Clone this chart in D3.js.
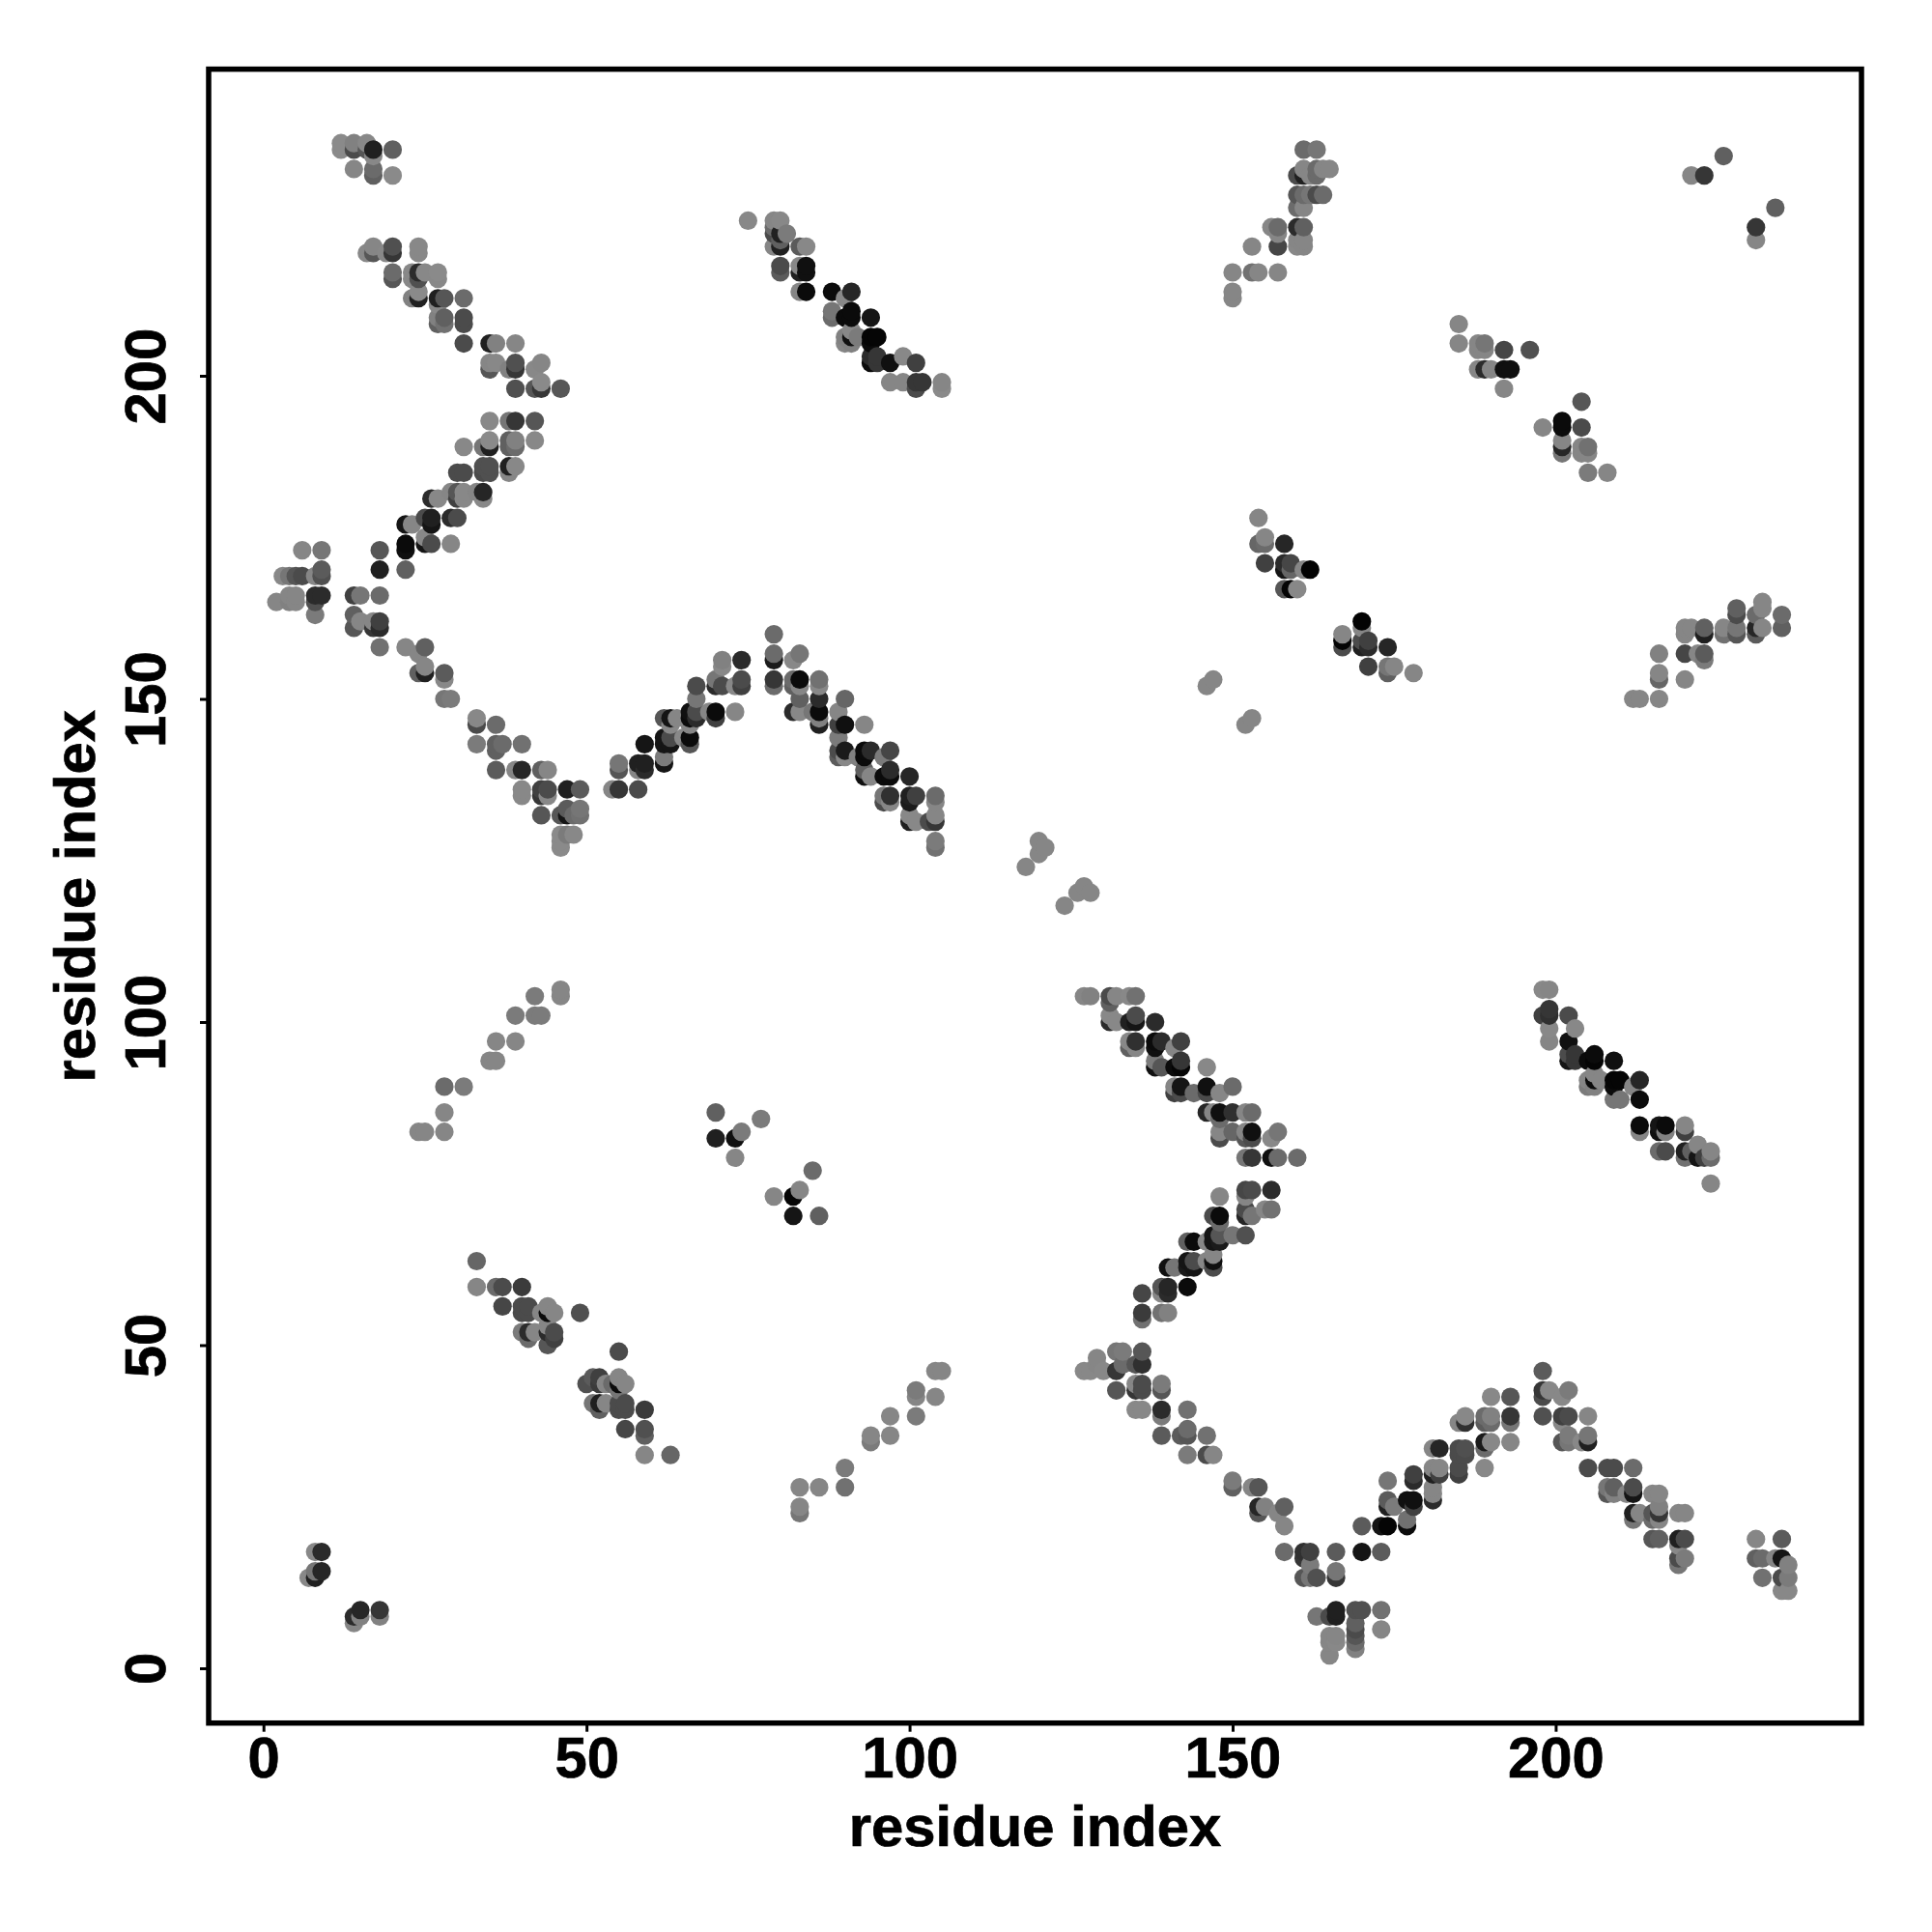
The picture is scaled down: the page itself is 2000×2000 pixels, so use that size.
<!DOCTYPE html>
<html><head><meta charset="utf-8">
<script src="https://cdnjs.cloudflare.com/ajax/libs/d3/7.8.5/d3.min.js"></script>
<style>html,body{margin:0;padding:0;background:#fff}svg{display:block}</style>
</head><body><svg id="c" width="2000" height="2000"></svg>
<script>
// each contact: [residue i, residue j, grey level of the dot]
const topLeft=[[12,236,135],[12,235,135],[14,236,120],[14,235,70],[16,236,130],[16,235,80],[17,235,30],[17,234,130],[20,235,90],[14,232,125],[17,232,100],[17,231,90],[20,231,135],
[16,219,130],[17,220,125],[17,219,80],[19,219,130],[20,220,75],[20,219,50],[24,220,130],[24,219,130],[20,216,100],[20,215,80],[23,215,130],[23,216,130],[24,216,40],[24,215,75],[25,216,130],[27,216,135],[27,215,130],
[23,212,120],[24,212,30],[24,213,135],[27,212,30],[28,212,80],[31,212,100],[27,211,130],[27,208,90],[27,209,120],[28,209,90],[28,208,105],[31,209,70],[31,208,70],[31,205,70],
[35,205,30],[36,205,120],[39,205,125],[35,202,125],[35,201,80],[36,202,130],[38,201,120],[39,202,75],[39,201,50],[42,201,130],[43,202,125],[39,198,75],[42,198,80],[43,198,50],[43,199,135],[46,198,80]];
const armUp=[[35,193,130],[38,193,110],[39,193,50],[42,193,80],[31,189,130],[34,189,110],[35,189,30],[35,190,135],[38,189,90],[38,190,90],[39,190,120],[39,189,100],[42,190,130],
[30,185,70],[31,185,70],[34,186,75],[34,185,70],[35,186,75],[35,185,75],[38,186,30],[38,185,125],[39,186,130],
[26,181,40],[27,181,130],[29,182,125],[30,182,80],[30,181,60],[31,182,130],[31,181,130],[33,182,125],[34,182,35],[34,181,130],
[22,177,20],[23,177,125],[25,178,70],[26,178,30],[26,177,20],[29,178,40],[30,178,70],[22,174,10],[22,173,15],[25,174,20],[25,175,130],[26,174,70],[29,174,125],[18,173,80],[18,170,30],[22,170,90]];
const leftEdge=[[6,173,125],[9,173,110],[3,169,130],[4,169,110],[5,169,80],[6,169,70],[8,169,125],[9,170,85],[9,169,75],[2,165,125],[4,166,125],[4,165,120],[5,166,125],[5,165,125],[8,166,40],[9,166,40],[8,165,75],[8,163,115],
[14,166,60],[15,166,110],[18,166,100],[14,163,90],[14,161,80],[15,162,125],[17,161,50],[17,162,125],[18,162,60],[18,161,40]];
const armDown=[[18,158,105],[22,158,125],[25,158,90],[24,157,125],[24,154,90],[25,154,30],[25,155,125],[28,154,85],[28,153,130],[28,150,110],[29,150,115],
[33,147,130],[33,146,70],[36,146,100],[33,143,115],[36,143,90],[36,142,90],[37,143,100],[40,143,105],[36,139,85],[39,139,125],[40,139,35],[43,139,90],[44,139,125],
[40,136,130],[40,135,130],[43,136,60],[43,135,50],[44,136,70],[44,135,130],[47,136,30],[49,136,85],[43,132,80],[46,132,80],[47,132,20],[48,132,100],[49,133,110],[49,132,105],[47,133,85],
[46,129,135],[46,128,135],[46,127,135],[48,129,130],[47,129,115]];
const helixTop=[[75,224,130],[79,224,125],[80,224,130],[79,223,100],[79,222,70],[80,222,30],[81,222,115],[79,220,125],[80,220,30],[80,221,90],[83,220,85],[84,220,130],
[80,217,70],[80,216,85],[83,217,130],[83,216,30],[84,217,15],[84,216,15],[83,213,125],[84,213,10],[88,213,10],[91,213,35],[90,212,130],
[88,210,110],[88,209,100],[90,209,10],[91,210,10],[91,209,10],[94,209,20],[90,206,120],[90,205,125],[91,206,15],[91,207,130],[91,205,120],[92,206,115],[94,206,5],[94,205,10],[95,206,5],
[94,203,40],[94,202,10],[95,203,50],[95,202,50],[97,202,15],[99,203,130],[101,202,60],[97,199,125],[99,199,125],[101,199,50],[101,198,70],[102,199,50],[105,199,125],[105,198,135]];
const peakCentre=[[79,160,100],[79,157,100],[79,156,25],[82,156,130],[83,157,110],[79,153,50],[79,152,100],[82,153,100],[82,152,90],[83,153,10],[83,152,125],[83,150,90],[82,148,40],[83,148,130],[85,148,110],
[86,153,105],[86,152,130],[86,150,40],[86,148,10],[86,147,120],[86,146,30],[90,150,95],[89,148,125],[89,146,60],[90,146,15],[93,146,125],[89,144,115],[89,142,70],[89,141,85],[90,142,25],[90,141,130],
[93,142,10],[93,141,10],[94,142,40],[92,141,120],[96,141,115],[97,142,65],[93,139,90],[93,138,15],[94,138,125],[96,138,10],[97,138,10],[97,139,40],[100,138,35],
[96,135,110],[96,134,70],[97,135,45],[97,134,125],[100,135,30],[100,134,25],[101,135,60],[104,135,100],[104,134,125],[100,132,130],[100,131,30],[101,131,130],[103,131,70],[104,132,125],[104,131,50],[104,128,115],[104,127,105],
[54,136,125],[55,136,50],[58,136,70],[55,140,110],[55,139,80],[58,140,30],[59,140,30],[59,139,40],[58,139,125],[59,143,20],[62,141,115],[62,140,20],[62,144,20],[62,143,20],[63,144,70],[63,143,20],[65,144,130],[66,144,10],[66,143,80],[66,146,125],
[62,147,80],[63,147,20],[63,146,130],[64,147,125],[66,148,15],[66,147,10],[67,148,70],[67,147,40],[67,150,110],[67,152,70],[69,148,125],[70,148,10],[70,147,60],[73,148,125],[70,153,110],[70,152,40],[71,152,70],[71,156,120],[71,155,130],[74,156,40],[73,152,130],[74,153,70],[74,152,60]];
const lowerRightUpper=[[127,104,125],[128,104,120],[131,104,70],[131,103,90],[132,104,125],[134,104,130],[135,104,105],[131,101,130],[131,100,40],[132,100,130],[134,100,30],[135,101,70],[135,100,20],[138,100,40],
[134,97,130],[134,96,90],[135,97,45],[135,96,125],[138,97,10],[138,96,15],[139,97,40],[141,96,125],[142,97,60],[138,94,115],[138,93,15],[139,93,80],[141,93,10],[142,93,5],[142,94,50],[146,93,130],
[141,90,125],[141,89,60],[142,90,20],[142,89,70],[144,89,100],[146,90,15],[146,89,70],[148,89,125],[150,90,100],[146,86,35],[147,86,125],[148,86,15],[148,85,100],[150,86,45],[152,86,125],[153,86,100],
[148,83,125],[148,82,70],[150,83,95],[152,83,125],[152,82,80],[153,83,15],[153,82,70],[156,82,130],[157,83,110],[152,79,110],[153,79,50],[156,79,15],[157,79,100],[160,79,100]];
const lowerRightLower=[[152,74,65],[153,74,70],[152,73,125],[156,74,40],[148,73,125],[147,70,70],[148,70,10],[148,69,100],[152,71,70],[152,70,35],[153,70,110],[155,71,125],[156,71,105],
[147,67,20],[147,66,20],[148,67,80],[148,66,25],[150,67,110],[152,67,75],[143,66,90],[144,66,10],[146,66,125],[143,63,20],[143,62,25],[144,63,70],[144,62,20],[146,63,125],[147,64,125],[147,63,15],[147,62,70],[140,62,15],[141,62,110],
[139,59,80],[140,59,35],[139,58,125],[140,58,40],[143,59,10],[136,58,65],[136,55,55],[136,54,105],[139,55,105],[140,55,120]];
const valleyLeft=[[127,46,130],[128,46,130],[129,48,125],[129,47,125],[130,46,130],[132,49,110],[133,49,115],[132,46,50],[133,47,100],[135,47,80],[136,49,80],[136,47,45],[132,43,80],[135,44,125],[135,43,50],[136,44,70],[136,43,70],[139,44,115],[139,43,80],
[135,40,130],[136,40,130],[139,40,40],[139,39,115],[143,40,105],[139,36,85],[142,36,85],[143,37,100],[143,36,80],[146,36,105],[143,33,115],[146,33,70],[147,33,125],[150,29,115],[150,28,90],[153,28,125],[154,28,80],
[154,25,35],[154,24,80],[155,25,120],[157,24,125],[158,25,90],[158,22,125],[158,18,100],[161,18,45],[161,17,50],[162,18,60],[162,16,115],[161,14,80],[162,14,110],[163,14,75],[166,18,85],[166,15,110],[166,14,50],[170,18,20],[173,18,85],
[170,22,85],[173,22,20],[174,22,5],[177,23,105],[177,22,10],[174,29,110],[174,26,85],[174,25,30],[175,25,115],[177,26,15],[178,26,15],[178,25,60],[178,30,60],[178,29,40]];
const valleyFloor=[[163,8,110],[165,8,70],[166,9,30],[166,8,30],[169,9,75],[170,9,75],[173,9,105],[173,6,125],[169,7,90],[169,6,70],[169,5,80],[169,4,100],[169,3,120],[165,5,125],[166,5,125],[165,4,125],[166,4,130],[165,2,125]];
const peakRight=[[181,34,125],[182,34,35],[181,31,125],[181,30,30],[182,31,125],[182,30,60],[181,28,125],[181,27,125],[181,26,40],[185,34,70],[185,33,70],[186,34,75],[186,33,70],[185,31,70],[185,30,60],[185,38,125],[186,39,130],[186,38,45],
[189,39,100],[190,39,120],[189,38,85],[190,38,100],[193,42,80],[193,39,50],[193,38,110],[190,42,130],[189,35,25],[189,34,100],[190,35,130],[193,35,125],[189,31,130],
[198,46,85],[198,43,50],[198,42,70],[199,43,130],[201,42,130],[202,43,115],[198,39,75],[201,39,60],[201,38,130],[202,39,70],[205,39,125],[201,35,80],[202,36,115],[202,35,110],[204,35,130],[205,36,110],[205,35,30],
[205,31,70],[208,31,70],[209,31,70],[212,31,100],[208,28,110],[208,27,80],[209,28,90],[209,27,120],[211,27,125],[212,28,70],[212,27,20],[215,27,125],[216,27,125],[212,24,30],[212,23,110],[213,24,125],[215,24,80],[215,23,100],[216,25,120],[216,24,50],[216,23,125],[219,24,125],[220,24,125],
[215,20,80],[216,20,90],[219,20,30],[220,20,70],[219,19,130],[219,17,70],[219,16,110],[220,17,115]];
const cornerBottomRight=[[231,20,125],[235,20,85],[231,17,90],[232,17,100],[234,17,125],[235,17,20],[236,16,120],[232,14,105],[235,14,70],[236,14,115],[235,12,130],[236,12,130]];
const helixRight=[[198,105,130],[199,105,125],[198,101,60],[199,102,50],[199,101,45],[199,99,130],[199,97,125],[202,101,70],[203,99,130],[202,97,15],[202,95,70],[202,94,20],[203,95,50],[203,94,50],[205,94,10],[206,95,10],[206,94,5],[209,94,15],
[205,91,125],[205,90,115],[206,92,125],[206,91,10],[206,90,120],[207,91,125],[209,91,5],[209,90,10],[210,91,5],[209,88,110],[210,88,110],[212,90,125],[213,91,35],[213,88,10],
[213,84,10],[213,83,125],[216,84,20],[216,83,15],[217,84,10],[217,83,120],[220,84,125],[220,83,60],[216,80,100],[217,80,70],[220,80,30],[220,79,105],[221,80,90],[222,81,125],[222,79,20],[223,79,60],[224,80,125],[224,79,100],[224,75,125]];
const bottomLeftMid=[[33,63,95],[33,59,125],[36,59,100],[37,59,70],[40,59,55],[37,56,65],[40,56,70],[40,55,70],[41,56,70],[41,55,70],[43,55,125],[44,56,125],[44,55,10],[45,55,125],[49,55,75],
[40,52,115],[41,52,40],[41,51,100],[42,52,125],[44,53,125],[44,52,40],[44,50,80],[45,52,70],[45,51,60],[55,49,70],[50,44,75],[51,45,85],[52,45,60],[52,44,55],[53,44,125],[54,44,100],[55,45,125],[55,44,10],[55,43,110],[56,44,125],
[51,41,110],[52,41,30],[52,40,90],[53,41,125],[55,41,70],[55,40,70],[56,41,70],[56,40,70],[59,40,55],[56,37,65],[59,37,75],[59,36,90],[59,33,125],[63,33,95]];
const bottomLeftCorner=[[8,18,130],[9,18,40],[7,14,130],[8,15,110],[8,14,30],[9,15,35],[14,8,40],[14,7,125],[15,9,35],[15,8,120],[18,9,50],[18,8,120]];
const topRight=[[161,235,100],[163,235,110],[161,232,125],[160,231,70],[161,231,30],[162,231,125],[163,232,100],[163,231,100],[164,232,125],[165,232,125],[160,228,80],[161,228,100],[162,228,110],[163,228,70],[164,228,100],[160,226,100],[161,226,125],
[156,223,125],[157,223,100],[157,222,125],[160,223,40],[161,223,90],[160,221,125],[161,221,125],[160,220,130],[161,220,125],[157,220,65],[153,220,125],[150,216,125],[153,216,105],[154,216,125],[157,216,125],[150,213,125],[150,212,125],
[221,231,125],[223,231,50],[226,234,90],[234,226,90],[231,223,50],[231,221,125],
[185,208,125],[185,205,125],[188,205,125],[188,204,125],[189,205,110],[189,204,125],[192,204,65],[196,204,75],[188,201,125],[189,201,40],[190,201,125],[192,201,15],[193,201,15],[192,198,125],
[204,196,80],[198,192,125],[201,193,10],[201,192,10],[204,192,70],[201,190,125],[201,189,35],[201,188,110],[204,189,125],[204,188,125],[205,189,105],[205,188,125],[205,185,115],[208,185,125]];
const rightMiddle=[[154,178,125],[154,174,95],[155,175,125],[155,174,100],[158,174,35],[155,171,60],[158,171,40],[158,170,20],[159,171,65],[159,170,95],[161,170,125],[162,170,3],[158,167,80],[159,167,5],[160,167,130],
[170,162,3],[170,161,125],[167,160,125],[167,159,5],[167,158,70],[170,159,70],[170,158,30],[171,159,60],[171,158,40],[174,158,35],[171,155,60],[174,155,110],[174,154,90],[175,155,125],[178,154,125],
[147,153,125],[146,152,125],[153,147,125],[152,146,125],
[220,161,125],[221,161,125],[220,160,125],[223,161,90],[223,160,30],[226,161,125],[226,160,105],[228,164,90],[228,163,70],[228,161,110],[228,160,80],[231,163,100],[231,161,35],[231,160,85],[232,165,125],[232,164,125],[232,161,125],[235,163,100],[235,161,90],
[216,157,120],[216,154,125],[216,153,95],[220,157,65],[222,157,125],[223,157,85],[223,156,115],[220,153,125],[212,150,125],[213,150,125],[216,150,125]];
const centreAndSparse=[[118,124,125],[120,128,125],[120,126,125],[121,127,125],[124,118,125],[126,120,125],[127,121,125],[128,120,125],
[24,83,125],[25,83,125],[28,83,125],[28,86,125],[28,90,100],[31,90,115],[35,94,125],[36,94,125],[36,97,125],[39,97,125],[39,101,115],[42,101,115],[43,101,115],[42,104,115],[46,104,125],[46,105,125],
[70,86,90],[70,82,30],[73,82,15],[74,83,115],[73,79,125],[77,85,115],[79,73,125],[82,73,5],[83,74,125],[82,70,20],[85,77,100],[86,70,90],
[83,28,125],[83,25,125],[83,24,110],[86,28,125],[90,31,115],[90,28,105],[94,36,125],[94,35,115],[97,36,125],[97,39,125],[101,39,115],[101,43,115],[101,42,125],[104,42,125],[104,46,125],[105,46,125]];
const xTicks=[0,50,100,150,200], yTicks=[0,50,100,150,200];
const axisLabel="residue index";

const contacts=[topLeft,armUp,leftEdge,armDown,helixTop,peakCentre,lowerRightUpper,lowerRightLower,valleyLeft,valleyFloor,peakRight,cornerBottomRight,helixRight,bottomLeftMid,bottomLeftCorner,topRight,rightMiddle,centreAndSparse].flat()
  .sort((a,b)=>d3.ascending(a[0],b[0])||d3.ascending(a[1],b[1]));

const L=216,R=1927,T=71.6,B=1783.7;
const x=d3.scaleLinear().domain([-8.48,247.33]).range([L,R]);
const y=d3.scaleLinear().domain([-8.48,247.45]).range([B,T]);
const grey=d3.scaleLinear().domain([0,125,135]).range([0,134,138]);
const svg=d3.select("#c");
const font="'Liberation Sans',Arial,sans-serif";
const styleText=s=>s.attr("fill","#000").attr("stroke","#000").attr("stroke-width",0.7).style("font-family",font).style("font-weight","bold").style("font-size","59.8px");
svg.append("rect").attr("width",2000).attr("height",2000).attr("fill","#fff");
svg.append("g").selectAll("circle").data(contacts).join("circle")
  .attr("cx",d=>x(d[0])).attr("cy",d=>y(d[1])).attr("r",9.6)
  .attr("fill",d=>{const g=grey(d[2]);return d3.rgb(g,g,g);});
svg.append("rect").attr("x",L).attr("y",T).attr("width",R-L).attr("height",B-T)
  .attr("fill","none").attr("stroke","#000").attr("stroke-width",5.5);
const gx=svg.append("g").attr("transform",`translate(0,${B})`).call(d3.axisBottom(x).tickValues(xTicks).tickFormat(d3.format("d")).tickSize(9));
const gy=svg.append("g").attr("transform",`translate(${L},0)`).call(d3.axisLeft(y).tickValues(yTicks).tickFormat(d3.format("d")).tickSize(9));
[gx,gy].forEach(g=>{g.select(".domain").remove();g.selectAll("line").attr("stroke","#000").attr("stroke-width",3);
  g.selectAll("text").call(styleText);});
gx.selectAll("text").attr("dy",0).attr("y",56.3);
gy.selectAll("text").attr("transform","rotate(-90)").attr("x",0).attr("y",-45).attr("dy",0).attr("text-anchor","middle");
svg.append("text").attr("x",(L+R)/2).attr("y",1911).attr("text-anchor","middle").call(styleText).text(axisLabel);
svg.append("text").attr("transform",`translate(98,${(T+B)/2}) rotate(-90)`).attr("text-anchor","middle").call(styleText).text(axisLabel);
</script></body></html>
